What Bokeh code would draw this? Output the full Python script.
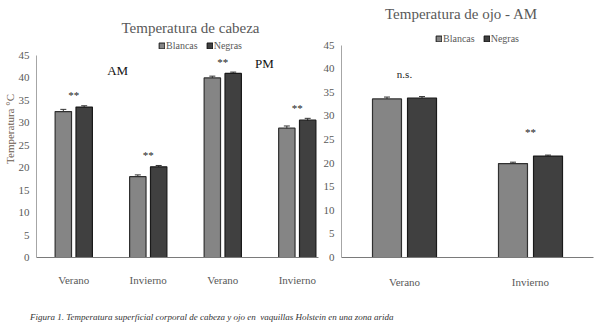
from bokeh.plotting import figure
from bokeh.models import (Range1d, Label, Legend, LegendItem, Whisker, TeeHead,
                          ColumnDataSource, FixedTicker, Div)
from bokeh.layouts import row, column
from bokeh.embed import file_html
from bokeh.resources import INLINE
from bokeh.core.properties import value

# ---------------- data ----------------
cats_cabeza = ["Verano", "Invierno", "Verano", "Invierno"]
blancas_cabeza = [32.5, 18.0, 40.0, 28.8]
negras_cabeza = [33.5, 20.2, 41.0, 30.6]
err_blancas_cabeza = [0.5, 0.4, 0.4, 0.5]
err_negras_cabeza = [0.3, 0.3, 0.3, 0.4]
sig_cabeza = ["**", "**", "**", "**"]

cats_ojo = ["Verano", "Invierno"]
blancas_ojo = [33.6, 19.9]
negras_ojo = [33.8, 21.5]
err_blancas_ojo = [0.4, 0.3]
err_negras_ojo = [0.3, 0.2]
sig_ojo = ["n.s.", "**"]

series = ["Blancas", "Negras"]
y_ticks = list(range(0, 46, 5))

FONT = "Liberation Serif"
QFONT = "'Liberation Serif', serif"
C_B = "#858585"
C_N = "#404040"
TXT = "#595959"


def make_chart(cats, bl, ng, eb, en, sig, width, height, frame_left, frame_right,
               frame_bottom, x_end, y_end, off, bw, sig_off, label_standoff):
    n = len(cats)
    idx = list(range(n))
    p = figure(width=width, height=height, output_backend="svg", toolbar_location=None,
               x_range=Range1d(-0.5, x_end), y_range=Range1d(0, y_end),
               min_border_left=frame_left, min_border_right=frame_right,
               min_border_top=0, min_border_bottom=frame_bottom)
    p.outline_line_color = None
    p.grid.visible = False
    p.background_fill_color = "white"

    src_b = ColumnDataSource(dict(x=[i - off for i in idx], top=bl,
                                  upper=[v + e for v, e in zip(bl, eb)],
                                  lower=[v - e for v, e in zip(bl, eb)]))
    src_n = ColumnDataSource(dict(x=[i + off for i in idx], top=ng,
                                  upper=[v + e for v, e in zip(ng, en)],
                                  lower=[v - e for v, e in zip(ng, en)]))
    rb = p.vbar(x="x", top="top", width=bw, source=src_b, fill_color=C_B,
                line_color="#303030", line_width=1.2)
    rn = p.vbar(x="x", top="top", width=bw, source=src_n, fill_color=C_N,
                line_color="#1a1a1a", line_width=1.2)
    for s in (src_b, src_n):
        p.add_layout(Whisker(source=s, base="x", upper="upper", lower="lower",
                             line_color="#333333", line_width=1,
                             upper_head=TeeHead(size=6, line_color="#333333"),
                             lower_head=TeeHead(size=6, line_color="#333333")))

    src_s = ColumnDataSource(dict(x=idx, y=[max(a, b) + sig_off for a, b in zip(bl, ng)],
                                  t=sig))
    p.text(x="x", y="y", text="t", source=src_s, text_font=value(FONT),
           text_font_size="11px", text_color="#222222", text_align="center",
           text_baseline="middle")

    xa = p.xaxis[0]
    xa.ticker = FixedTicker(ticks=idx)
    xa.major_label_overrides = {i: c for i, c in zip(idx, cats)}
    xa.major_tick_line_color = None
    xa.minor_tick_line_color = None
    xa.axis_line_color = "#7a7a7a"
    xa.major_label_standoff = label_standoff
    xa.major_label_text_font = QFONT
    xa.major_label_text_font_size = "11px"
    xa.major_label_text_color = TXT

    ya = p.yaxis[0]
    ya.ticker = FixedTicker(ticks=y_ticks)
    ya.bounds = (0, 45)
    ya.major_tick_line_color = None
    ya.minor_tick_line_color = None
    ya.major_tick_out = 0
    ya.axis_line_color = "#a6a6a6"
    ya.major_label_standoff = 7
    ya.major_label_text_font = QFONT
    ya.major_label_text_font_size = "11px"
    ya.major_label_text_color = TXT

    legend = Legend(items=[LegendItem(label=series[0], renderers=[rb]),
                           LegendItem(label=series[1], renderers=[rn])],
                    orientation="horizontal", glyph_width=7, glyph_height=7,
                    label_standoff=1, spacing=8, padding=0, margin=0,
                    label_height=10, label_text_font=QFONT,
                    label_text_font_size="10px", label_text_color=TXT,
                    border_line_color=None, background_fill_alpha=0)
    p.add_layout(legend)
    return p, legend


# left: 45 -> 55px, 0 -> 257px  => top of frame at 0 px
p1, lg1 = make_chart(cats_cabeza, blancas_cabeza, negras_cabeza, err_blancas_cabeza,
                     err_negras_cabeza, sig_cabeza, 320, 290, 36, 2, 33,
                     3.285, 57.25, 0.14, 0.22, 2.6, 10)
lg1.location = (122, 206)
ya1 = p1.yaxis[0]
ya1.axis_label = "Temperatura °C"
ya1.axis_label_text_font = QFONT
ya1.axis_label_text_font_style = "normal"
ya1.axis_label_text_font_size = "11px"
ya1.axis_label_text_color = "#6b5a4e"
ya1.axis_label_standoff = 0
p1.add_layout(Label(x=154, y=230, x_units="screen", y_units="screen",
                    text="Temperatura de cabeza", text_font=FONT, text_font_size="15px",
                    text_color=TXT, text_align="center", text_baseline="middle"))
p1.add_layout(Label(x=0.59, y=41.7, text="AM", text_font=FONT, text_font_size="13px",
                    text_color="#111111", text_align="center", text_baseline="middle"))
p1.add_layout(Label(x=2.56, y=43.2, text="PM", text_font=FONT, text_font_size="13px",
                    text_color="#111111", text_align="center", text_baseline="middle"))

# right: 45 -> 45px, 0 -> 259px
p2, lg2 = make_chart(cats_ojo, blancas_ojo, negras_ojo, err_blancas_ojo,
                     err_negras_ojo, sig_ojo, 280, 290, 21, 7, 31,
                     1.5, 54.46, 0.139, 0.23, 5.0, 12)
lg2.location = (94, 213)
p2.add_layout(Label(x=120, y=244, x_units="screen", y_units="screen",
                    text="Temperatura de ojo - AM", text_font=FONT, text_font_size="15px",
                    text_color=TXT, text_align="center", text_baseline="middle"))

caption = Div(text="<i>Figura 1. Temperatura superficial corporal de cabeza y ojo en&nbsp; "
                   "vaquillas Holstein en una zona arida</i>",
              width=600, height=34,
              styles={"font-family": FONT, "font-size": "9px", "color": "#333333",
                      "padding-left": "25px", "padding-top": "16px"})

layout = column(row(p1, p2, spacing=0), caption, spacing=0)
open("out.html", "w").write(file_html(layout, INLINE))
